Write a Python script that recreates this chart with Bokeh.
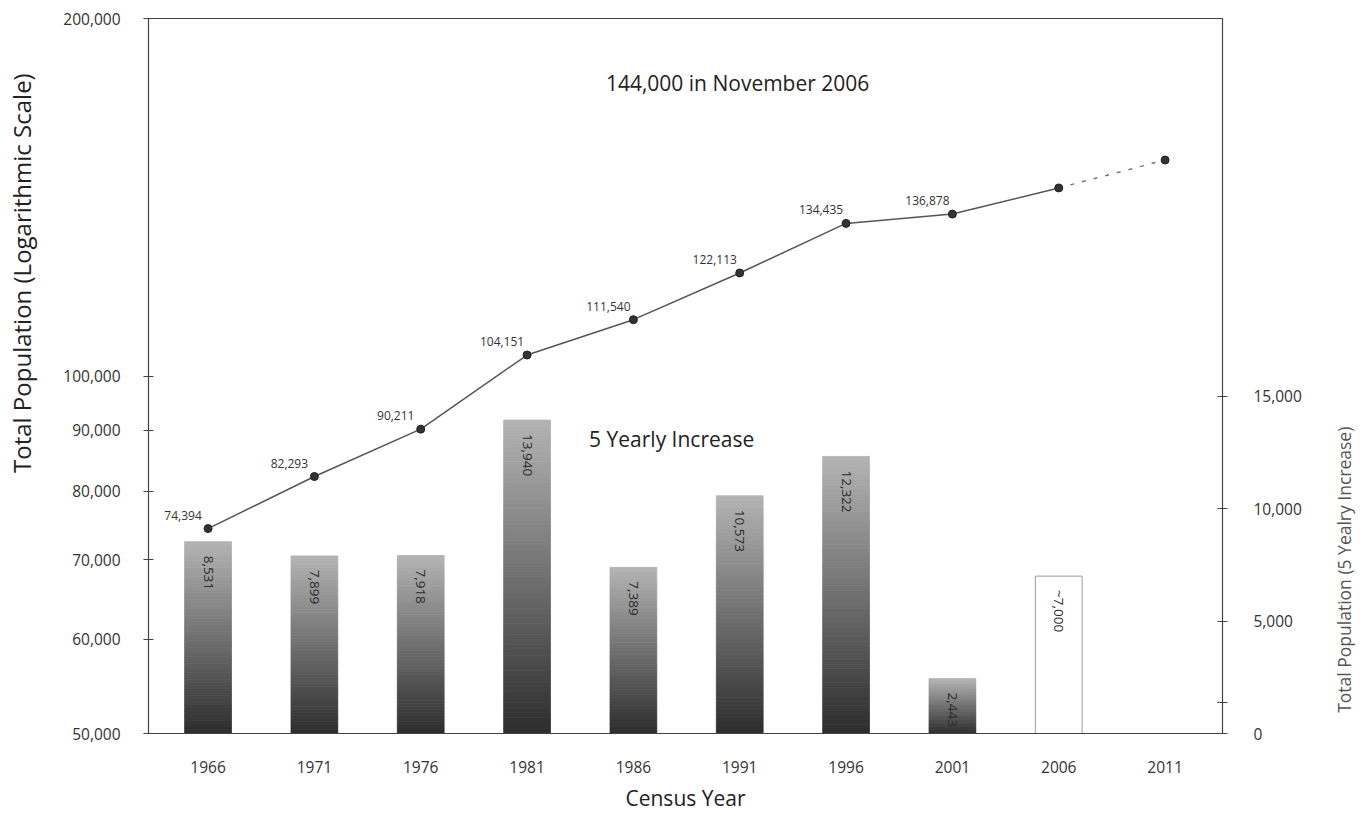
import math
from bokeh.plotting import figure
from bokeh.layouts import row
from bokeh.models import (ColumnDataSource, Range1d, LinearAxis, FixedTicker,
                          NumeralTickFormatter, Label, LinearScale)
from bokeh.core.properties import value
from bokeh.embed import file_html
from bokeh.resources import INLINE

# ---------------- data ----------------
years = [1966, 1971, 1976, 1981, 1986, 1991, 1996, 2001, 2006, 2011]
population = [74394, 82293, 90211, 104151, 111540, 122113, 134435, 136878, 144000, 152000]
pop_labels = ["74,394", "82,293", "90,211", "104,151", "111,540", "122,113",
              "134,435", "136,878"]
increase_years = [1966, 1971, 1976, 1981, 1986, 1991, 1996, 2001]
increase = [8531, 7899, 7918, 13940, 7389, 10573, 12322, 2443]
increase_labels = ["8,531", "7,899", "7,918", "13,940", "7,389", "10,573", "12,322", "2,443"]
estimate_years = [2006]
estimate_increase = [7000]
estimate_labels = ["~7,000"]
left_ticks = [50000, 60000, 70000, 80000, 90000, 100000, 200000]
right_ticks = [0, 1400, 5000, 10000, 15000]
x_ticks = years

FONT = "Open Sans"
TXT = "#333333"
H = 814
LW, MW, RW = 40, 1270, 50   # left title strip, main plot, right title strip

p = figure(width=MW, height=H, y_axis_type="log",
           x_range=Range1d(1963.2, 2013.7), y_range=Range1d(50000, 200000),
           output_backend="svg", toolbar_location=None,
           min_border_left=108, min_border_right=88, min_border_top=18,
           min_border_bottom=78)
p.extra_y_ranges = {"inc": Range1d(0, 31800)}
p.extra_y_scales = {"inc": LinearScale()}
p.grid.visible = False
p.outline_line_color = "#444444"
p.outline_line_width = 1.2
p.background_fill_color = "white"
p.border_fill_color = "white"

# ---------------- bars with vertical gradient ----------------
N = 60
half = 1.1
qx0, qx1, qb, qt, qc = [], [], [], [], []
for yr, v in zip(increase_years, increase):
    for k in range(N):
        f = (k + 0.5) / N
        g = int(45 + 135 * f)
        qx0.append(yr - half)
        qx1.append(yr + half)
        qb.append(v * k / N)
        qt.append(v * (k + 1) / N)
        qc.append("#%02x%02x%02x" % (g, g, g))
bars = ColumnDataSource(dict(left=qx0, right=qx1, bottom=qb, top=qt, color=qc))
p.quad(left="left", right="right", bottom="bottom", top="top", source=bars,
       fill_color="color", line_color="color", line_width=0.8, y_range_name="inc")

est = ColumnDataSource(dict(left=[y - half for y in estimate_years],
                            right=[y + half for y in estimate_years],
                            top=estimate_increase, bottom=[0] * len(estimate_years)))
p.quad(left="left", right="right", bottom="bottom", top="top", source=est,
       fill_color="white", line_color="#9a9a9a", line_width=1, y_range_name="inc")

blab = ColumnDataSource(dict(x=increase_years + estimate_years,
                             y=increase + estimate_increase,
                             t=increase_labels + estimate_labels))
p.text(x="x", y="y", text="t", source=blab, y_range_name="inc", angle=-math.pi / 2,
       text_align="left", text_baseline="middle", y_offset=14,
       text_font=value(FONT), text_font_size="13.5px", text_color="#2a2a2a")

# ---------------- population line ----------------
n_obs = 9
p.line(years[:n_obs], population[:n_obs], line_color="#555555", line_width=1.5)
p.line(years[n_obs - 1:], population[n_obs - 1:], line_color="#777777",
       line_width=1.5, line_dash="4 8")
p.scatter(years, population, size=8, fill_color="#333333", line_color="#222222")

plab = ColumnDataSource(dict(x=years[:len(pop_labels)], y=population[:len(pop_labels)],
                             t=pop_labels))
p.text(x="x", y="y", text="t", source=plab, text_align="center",
       text_baseline="bottom", x_offset=-25, y_offset=-9,
       text_font=value(FONT), text_font_size="12px", text_color=TXT)

# ---------------- annotations ----------------
p.add_layout(Label(x=1990.9, y=176500, text="144,000 in November 2006",
                   text_align="center", text_baseline="middle",
                   text_font=FONT, text_font_size="21px", text_color="#222222"))
p.add_layout(Label(x=1987.8, y=13100, y_range_name="inc", text="5 Yearly Increase",
                   text_align="center", text_baseline="middle",
                   text_font=FONT, text_font_size="21px", text_color="#222222"))

# ---------------- axes ----------------
TICK_FS = "15.5px"
xa = p.xaxis[0]
xa.ticker = FixedTicker(ticks=x_ticks)
xa.axis_label = "Census Year"
xa.axis_label_text_font = FONT
xa.axis_label_text_font_size = "21px"
xa.axis_label_text_font_style = "normal"
xa.axis_label_text_color = "#222222"
xa.axis_label_standoff = 8
xa.major_label_standoff = 27
xa.major_tick_in = 0
xa.major_tick_out = 0
xa.minor_tick_line_color = None
xa.axis_line_color = "#444444"
xa.major_label_text_font = FONT
xa.major_label_text_font_size = TICK_FS
xa.major_label_text_color = TXT

ya = p.yaxis[0]
ya.ticker = FixedTicker(ticks=left_ticks)
ya.formatter = NumeralTickFormatter(format="0,0")
ya.major_tick_in = 5
ya.major_tick_out = 5
ya.minor_tick_line_color = None
ya.axis_line_color = "#444444"
ya.major_tick_line_color = "#444444"
ya.major_label_standoff = 23
ya.major_label_text_font = FONT
ya.major_label_text_font_size = TICK_FS
ya.major_label_text_color = TXT

ra = LinearAxis(y_range_name="inc", ticker=FixedTicker(ticks=right_ticks),
                formatter=NumeralTickFormatter(format="0,0"),
                major_label_overrides={1400: ""})
ra.major_tick_in = 5
ra.major_tick_out = 5
ra.minor_tick_line_color = None
ra.axis_line_color = "#444444"
ra.major_tick_line_color = "#444444"
ra.major_label_standoff = 26
ra.major_label_text_font = FONT
ra.major_label_text_font_size = TICK_FS
ra.major_label_text_color = TXT
p.add_layout(ra, "right")


# ---------------- side strips carrying the vertical axis titles ----------------
# the row aligns the strips' frames with the main frame (page y 18 .. ~734),
# so their y range runs in page pixels from bottom to top of that frame
def strip(width):
    f = figure(width=width, height=H, x_range=Range1d(0, width), y_range=Range1d(734, 18),
               x_axis_location=None, y_axis_location=None, output_backend="svg",
               toolbar_location=None, min_border=0)
    f.grid.visible = False
    f.outline_line_color = None
    f.background_fill_color = "white"
    f.border_fill_color = "white"
    return f


left_strip = strip(LW)
left_strip.add_layout(Label(x=21, y=273, text="Total Population (Logarithmic Scale)",
                            angle=math.pi / 2, text_align="center", text_baseline="middle",
                            text_font=FONT, text_font_size="24px", text_color="#222222"))
right_strip = strip(RW)
right_strip.add_layout(Label(x=33, y=570, text="Total Population (5 Yealry Increase)",
                             angle=math.pi / 2, text_align="center", text_baseline="middle",
                             text_font=FONT, text_font_size="17.5px", text_color="#555555"))

layout = row(left_strip, p, right_strip, spacing=0)
open("out.html", "w").write(file_html(layout, INLINE))
